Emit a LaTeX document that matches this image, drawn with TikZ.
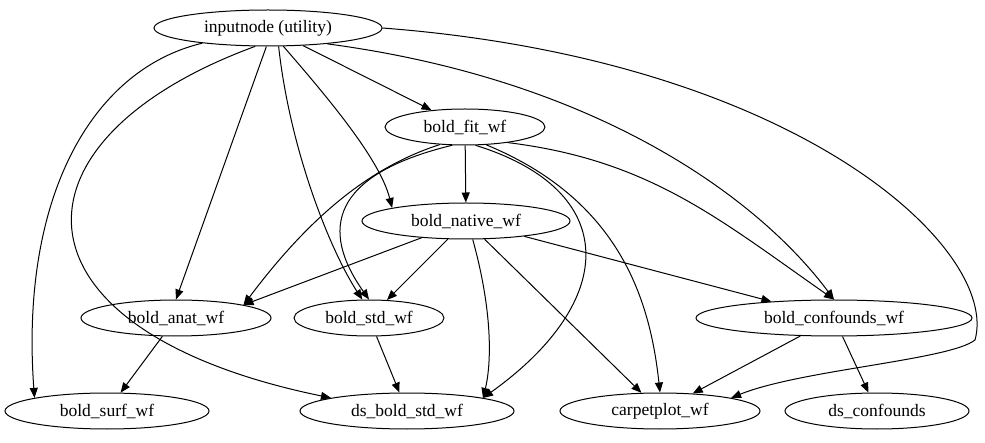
\documentclass[tikz,border=0pt]{standalone}
\usepackage{fontspec}
\setmainfont{Liberation Serif}
\usetikzlibrary{positioning, arrows.meta, shapes.geometric}

\begin{document}
\begin{tikzpicture}[
        x=1pt, y=-1pt,
        line width=1pt,
        wf/.style={draw, ellipse, inner sep=0pt, minimum height=36pt, font=\fontsize{17.5}{19}\selectfont},
        arrow/.style={draw, -{Triangle[length=10pt, width=8pt]}}
    ]
    \useasboundingbox (0,0) rectangle (985,443);

    % Knoten
    \node (input) [wf, minimum width=228pt] at (268,28) {inputnode (utility)};
    \node (fit) [wf, minimum width=160pt] at (465,127) {bold\_fit\_wf};
    \node (native) [wf, minimum width=208pt] at (466,221) {bold\_native\_wf};
    \node (anat) [wf, minimum width=190pt] at (176,318) {bold\_anat\_wf};
    \node (std) [wf, minimum width=150pt] at (369,318) {bold\_std\_wf};
    \node (conf) [wf, minimum width=276pt] at (834,318) {bold\_confounds\_wf};
    \node (surf) [wf, minimum width=204pt] at (107,411) {bold\_surf\_wf};
    \node (dsstd) [wf, minimum width=214pt] at (407,411) {ds\_bold\_std\_wf};
    \node (carpet) [wf, minimum width=200pt] at (660,411) {carpetplot\_wf};
    \node (dsconf) [wf, minimum width=184pt] at (877,411) {ds\_confounds};

    % Verbindungen von inputnode
    \draw[arrow] (input) -- (fit);
    \draw[arrow] (input.310) .. controls (330,100) and (380,160) .. (native.north west);
    \draw[arrow] (input.265) -- (anat.north);
    \draw[arrow] (input.300) .. controls (290,150) and (330,250) .. (std.110);
    \draw[arrow] (input.345) .. controls (600,80) and (760,200) .. (conf.north);
    \draw[arrow] (input.193) .. controls (90,70) and (20,200) .. (surf.north west);
    \draw[arrow] (input.235) .. controls (0,140) and (0,330) .. (dsstd.north west);
    \draw[arrow] (input.east) .. controls (800,60) and (1000,250) .. (975,340) .. controls (950,360) and (800,370) .. (carpet.north east);

    % Verbindungen von bold_fit_wf
    \draw[arrow] (fit) -- (native);
    \draw[arrow] (fit.215) .. controls (360,170) and (300,230) .. (anat.north east);
    \draw[arrow] (fit.235) .. controls (330,175) and (320,230) .. (std.north);
    \draw[arrow] (fit.300) .. controls (620,190) and (620,300) .. (dsstd.north east);
    \draw[arrow] (fit.320) .. controls (620,200) and (650,300) .. (carpet.north);
    \draw[arrow] (fit.340) .. controls (650,160) and (720,220) .. (conf.north);

    % Verbindungen von bold_native_wf
    \draw[arrow] (native) -- (anat.north east);
    \draw[arrow] (native) -- (std);
    \draw[arrow] (native) -- (conf);
    \draw[arrow] (native.290) .. controls (495,320) and (490,370) .. (dsstd.north east);
    \draw[arrow] (native) -- (carpet);

    % restliche Verbindungen
    \draw[arrow] (anat) -- (surf);
    \draw[arrow] (std) -- (dsstd);
    \draw[arrow] (conf) -- (carpet);
    \draw[arrow] (conf) -- (dsconf);
\end{tikzpicture}
\end{document}
